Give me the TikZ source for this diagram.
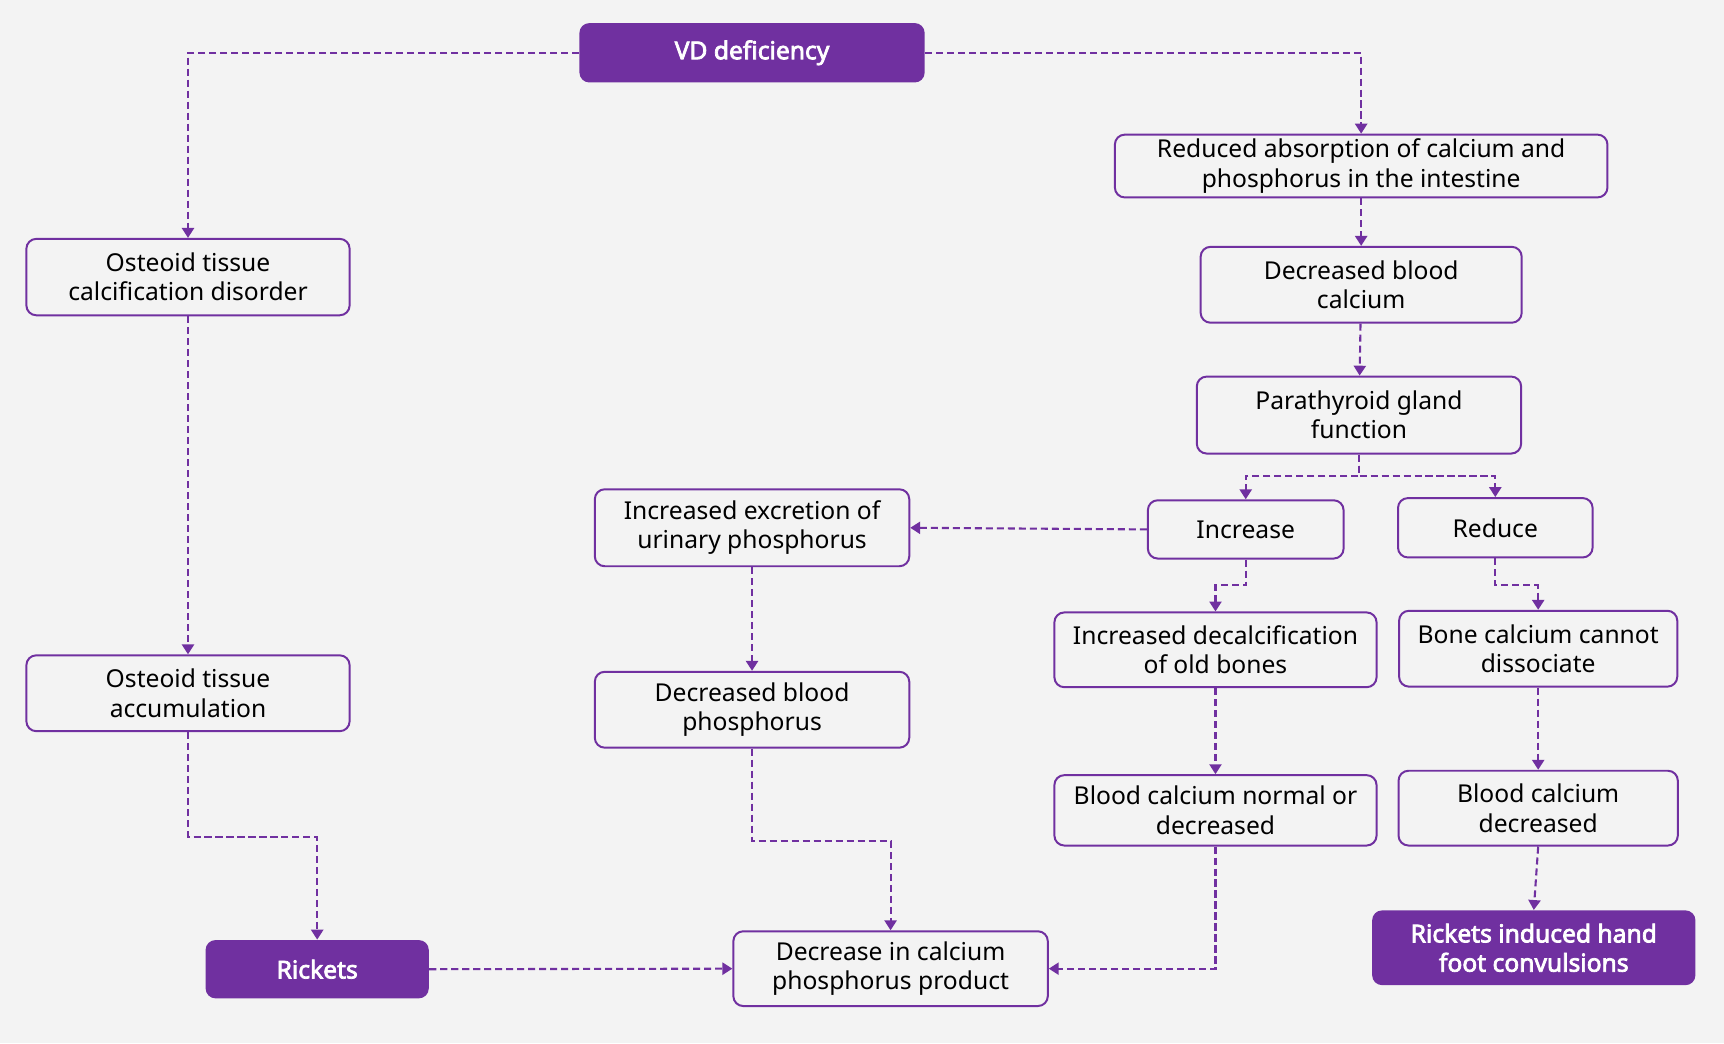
\documentclass[tikz,border=0pt]{standalone}
\usepackage{fontspec}
\setmainfont{Noto Sans}[BoldFont={Noto Sans}, BoldFeatures={FakeBold=3}]
\usetikzlibrary{shapes.geometric, arrows.meta}
\definecolor{vdpurple}{HTML}{7030A0}
\definecolor{bggray}{HTML}{F3F3F3}
\tikzstyle{outcome} = [rectangle, rounded corners=4.5pt, inner sep=2pt, text centered, align=center, fill=vdpurple, text=white, font=\fontsize{11.2}{13.3}\selectfont\bfseries]
\tikzstyle{process} = [rectangle, rounded corners=4.5pt, inner sep=2pt, text centered, align=center, draw=vdpurple, line width=0.9pt, text=black]
\tikzstyle{arrow} = [draw=vdpurple, line width=0.95pt, dash pattern=on 3.2pt off 1.8pt, -{Triangle[length=4.5pt,width=5.5pt]}]

\begin{document}
\begin{tikzpicture}[node distance=55pt, font=\fontsize{11.2}{13.3}\selectfont]
	\fill [bggray] (-342pt,24pt) rectangle (442pt,-450.5pt);
	\useasboundingbox (-342pt,24pt) rectangle (442pt,-450.5pt);

	\node (n0) [outcome, minimum width=157pt, minimum height=27pt] {VD deficiency};
	\node (n1) [process, below of=n0, xshift=277pt, yshift=3.5pt, minimum width=224pt, minimum height=27pt] {Reduced absorption of calcium and\\phosphorus in the intestine};
	\node (n2) [process, below of=n1, yshift=1pt, minimum width=146pt, minimum height=34.5pt] {Decreased blood\\calcium};
	\node (n3) [process, below of=n2, xshift=-1pt, yshift=-4.25pt, minimum width=147.5pt, minimum height=35pt] {Parathyroid gland\\function};
	\node (n4) [process, below of=n3, xshift=-51.5pt, yshift=3pt, minimum width=89pt, minimum height=26.5pt] {Increase};
	\node (n5) [process, right of=n4, xshift=58.5pt, yshift=0.75pt, minimum width=88.5pt, minimum height=27pt] {Reduce};
	\node (n6) [process, below of=n4, xshift=-13.75pt, yshift=0.25pt, minimum width=146.5pt, minimum height=34pt] {Increased decalcification\\of old bones};
	\node (n7) [process, below of=n5, xshift=19.5pt, minimum width=126.5pt, minimum height=34.5pt] {Bone calcium cannot\\dissociate};
	\node (n8) [process, below of=n6, yshift=-18pt, minimum width=146.5pt, minimum height=32pt] {Blood calcium normal or\\decreased};
	\node (n9) [process, below of=n7, yshift=-17.5pt, minimum width=127pt, minimum height=34pt] {Blood calcium\\decreased};
	\node (n10) [outcome, below of=n9, xshift=-2pt, yshift=-8.5pt, minimum width=147pt, minimum height=34pt] {Rickets induced hand\\foot convulsions};
	\node (n11) [process, left of=n4, xshift=-169.5pt, yshift=0.75pt, minimum width=143pt, minimum height=35pt] {Increased excretion of\\urinary phosphorus};
	\node (n12) [process, below of=n11, yshift=-27.75pt, minimum width=143pt, minimum height=34.5pt] {Decreased blood\\phosphorus};
	\node (n13) [process, below of=n12, xshift=63pt, yshift=-62.75pt, minimum width=143pt, minimum height=34pt] {Decrease in calcium\\phosphorus product};
	\node (n14) [process, left of=n0, xshift=-201.5pt, yshift=-102pt, minimum width=147pt, minimum height=34.75pt] {Osteoid tissue\\calcification disorder};
	\node (n15) [process, below of=n14, yshift=-134.25pt, minimum width=147pt, minimum height=34.5pt] {Osteoid tissue\\accumulation};
	\node (n16) [outcome, below of=n15, xshift=58.75pt, yshift=-70.5pt, minimum width=101.5pt, minimum height=26.5pt] {Rickets};

	\draw [arrow] (n0.west) -| (n14.north);
	\draw [arrow] (n0.east) -| (n1.north);
	\draw [arrow] (n1) -- (n2);
	\draw [arrow] (n2) -- (n3);
	\draw [arrow] (n3.south) -- ++(0,-9.75pt) -| (n4.north);
	\draw [arrow] (n3.south) -- ++(0,-9.75pt) -| (n5.north);
	\draw [arrow] (n4.west) -- (n11.east);
	\draw [arrow] (n4.south) -- ++(0,-11.75pt) -| (n6.north);
	\draw [arrow] (n5.south) -- ++(0,-12.25pt) -| (n7.north);
	\draw [arrow] (n6) -- (n8);
	\draw [arrow] (n7) -- (n9);
	\draw [arrow] (n9.south) -- (n10.north);
	\draw [arrow] (n8.south) |- (n13.east);
	\draw [arrow] (n11) -- (n12);
	\draw [arrow] (n12.south) -- ++(0,-42pt) -| (n13.north);
	\draw [arrow] (n14) -- (n15);
	\draw [arrow] (n15.south) -- ++(0,-47.5pt) -| (n16.north);
	\draw [arrow] (n16.east) -- (n13.west);
\end{tikzpicture}
\end{document}
